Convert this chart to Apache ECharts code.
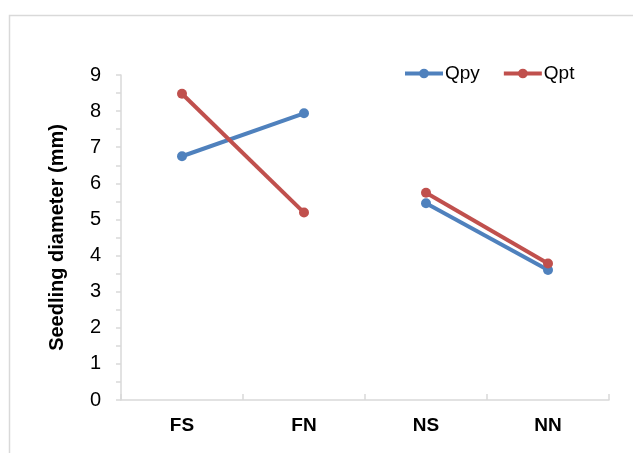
<!DOCTYPE html>
<html>
<head>
<meta charset="utf-8">
<script src="https://cdn.jsdelivr.net/npm/echarts@6/dist/echarts.min.js"></script>
<style>
  html, body { margin: 0; padding: 0; background: #fff; }
  #chart { width: 633px; height: 453px; }
</style>
</head>
<body>
<div id="chart"></div>
<script>
// Seedling diameter by treatment
const categories = ['FS', 'FN', 'NS', 'NN'];
const qpyValues = [6.75, 7.94, 5.45, 3.60];
const qptValues = [8.48, 5.19, 5.74, 3.78];
const yTicks = [0, 1, 2, 3, 4, 5, 6, 7, 8, 9];

const blue = '#4F81BD';
const red = '#C0504D';
const font = 'Liberation Sans, Arial, sans-serif';

// The F-group and N-group are drawn as separate segments (no line between FN and NS)
function part(values, idx) {
  return values.map((v, i) => (idx.includes(i) ? v : '-'));
}

function lineSeries(name, color, data) {
  return {
    name: name,
    type: 'line',
    data: data,
    symbol: 'circle',
    symbolSize: 10,
    connectNulls: false,
    lineStyle: { color: color, width: 4 },
    itemStyle: { color: color },
    emphasis: { disabled: true },
    z: name === 'Qpt' ? 3 : 2
  };
}

const chart = echarts.init(document.getElementById('chart'), null, { renderer: 'canvas' });
chart.setOption({
  animation: false,
  backgroundColor: '#fff',
  graphic: [{
    type: 'rect',
    shape: { x: 9.5, y: 15.5, width: 700, height: 500 },
    style: { fill: 'none', stroke: '#d9d9d9', lineWidth: 1.5 },
    silent: true
  }],
  grid: { left: 121, right: 24, top: 75, bottom: 53 },
  legend: {
    data: [
      { name: 'Qpy', lineStyle: { width: 4, color: blue }, itemStyle: { color: blue } },
      { name: 'Qpt', lineStyle: { width: 4, color: red }, itemStyle: { color: red } }
    ],
    left: 398,
    top: 59,
    itemWidth: 38,
    itemHeight: 12,
    itemGap: 22,
    textStyle: { fontFamily: font, fontSize: 19, color: '#000', padding: [0, 0, 0, -3] }
  },
  xAxis: {
    type: 'category',
    data: categories,
    boundaryGap: true,
    axisLine: { lineStyle: { color: '#d9d9d9', width: 1.5 } },
    axisTick: { show: true, inside: true, length: 6, lineStyle: { color: '#d9d9d9', width: 1.5 } },
    axisLabel: {
      margin: 16,
      color: '#000',
      fontFamily: font,
      fontWeight: 'bold',
      fontSize: 19
    },
    splitLine: { show: false }
  },
  yAxis: {
    type: 'value',
    min: yTicks[0],
    max: yTicks[yTicks.length - 1],
    interval: 1,
    name: 'Seedling diameter (mm)',
    nameLocation: 'middle',
    nameGap: 54,
    nameRotate: 90,
    nameTextStyle: {
      color: '#000',
      fontFamily: font,
      fontWeight: 'bold',
      fontSize: 20
    },
    axisLine: { show: true, lineStyle: { color: '#d9d9d9', width: 1.5 } },
    axisTick: { show: true, length: 5, lineStyle: { color: '#d9d9d9', width: 1.5 } },
    minorTick: { show: true, splitNumber: 2, length: 5, lineStyle: { color: '#d9d9d9', width: 1.5 } },
    axisLabel: {
      margin: 20,
      color: '#000',
      fontFamily: font,
      fontSize: 20
    },
    splitLine: { show: false }
  },
  series: [
    lineSeries('Qpy', blue, part(qpyValues, [0, 1])),
    lineSeries('Qpy', blue, part(qpyValues, [2, 3])),
    lineSeries('Qpt', red, part(qptValues, [0, 1])),
    lineSeries('Qpt', red, part(qptValues, [2, 3]))
  ]
});
</script>
</body>
</html>
